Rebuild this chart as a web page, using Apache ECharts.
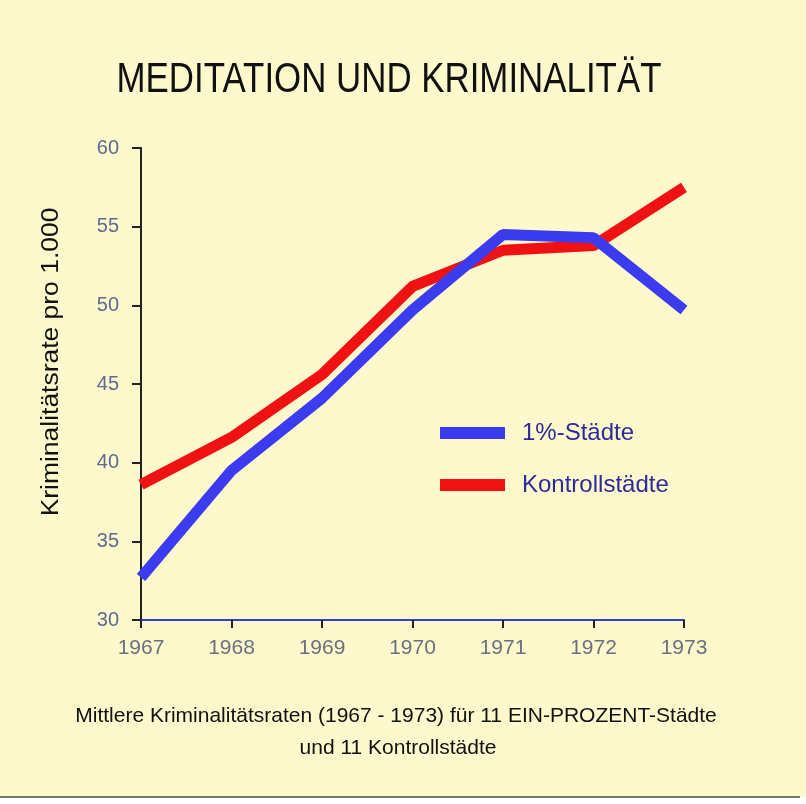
<!DOCTYPE html>
<html>
<head>
<meta charset="utf-8">
<script src="https://cdn.jsdelivr.net/npm/echarts@6/dist/echarts.min.js"></script>
<style>
  html, body { margin: 0; padding: 0; background: #ffffff; }
  #chart { width: 806px; height: 804px; }
</style>
</head>
<body>
<div id="chart"></div>
<script>
// Jahre und Kriminalitätsraten (pro 1.000 Einwohner)
const years = ['1967', '1968', '1969', '1970', '1971', '1972', '1973'];
const prozentStaedte = [32.7, 39.5, 44.1, 49.7, 54.5, 54.3, 49.7];
const kontrollStaedte = [38.6, 41.6, 45.6, 51.2, 53.5, 53.8, 57.5];
const yTicks = [30, 35, 40, 45, 50, 55, 60];

const chart = echarts.init(document.getElementById('chart'));
const sans = '"Liberation Sans", Arial, sans-serif';

const option = {
    backgroundColor: '#ffffff',
    animation: false,
    graphic: [
        { type: 'rect', shape: { x: 0, y: 0, width: 806, height: 797 }, style: { fill: '#fdf9cd' }, z: -10 },
        { type: 'line', shape: { x1: 0, y1: 797, x2: 800, y2: 797 }, style: { stroke: '#6f7a6a', lineWidth: 2 } },
        {
            type: 'text', x: 389, y: 80, scaleX: 0.83,
            style: { text: 'MEDITATION UND KRIMINALITÄT', font: '42px ' + sans, fill: '#111111', align: 'center', verticalAlign: 'middle' }
        },
        {
            type: 'text', x: 52, y: 362, rotation: Math.PI / 2, scaleX: 1.15,
            style: { text: 'Kriminalitätsrate pro 1.000', font: '23px ' + sans, fill: '#111111', align: 'center', verticalAlign: 'middle' }
        },
        {
            type: 'text', x: 396, y: 716,
            style: { text: 'Mittlere Kriminalitätsraten (1967 - 1973) für 11 EIN-PROZENT-Städte', font: '21px ' + sans, fill: '#111111', align: 'center', verticalAlign: 'middle' }
        },
        {
            type: 'text', x: 398, y: 748,
            style: { text: 'und 11 Kontrollstädte', font: '21px ' + sans, fill: '#111111', align: 'center', verticalAlign: 'middle' }
        }
    ],
    grid: { left: 141, right: 122, top: 148, bottom: 184 },
    legend: {
        orient: 'vertical',
        left: 435,
        top: 416,
        icon: 'rect',
        itemWidth: 65,
        itemHeight: 12,
        itemGap: 28,
        textStyle: { color: '#2b2b9c', fontSize: 24, fontFamily: sans, padding: [0, 0, 0, 12] },
        data: ['1%-Städte', 'Kontrollstädte']
    },
    xAxis: {
        type: 'category',
        data: years,
        boundaryGap: false,
        axisLine: { lineStyle: { color: '#2f3fd0', width: 2 } },
        axisTick: { alignWithLabel: true, length: 8, lineStyle: { color: '#222222', width: 2 } },
        axisLabel: { color: '#6a7080', fontSize: 21, margin: 18, fontFamily: sans }
    },
    yAxis: {
        type: 'value',
        min: 30,
        max: 60,
        interval: 5,
        axisLine: { show: true, lineStyle: { color: '#222222', width: 2 } },
        axisTick: { show: true, length: 9, lineStyle: { color: '#222222', width: 2 } },
        axisLabel: {
            color: '#5c6a94', fontSize: 20, margin: 22, fontFamily: sans,
            formatter: v => yTicks.includes(v) ? String(v) : ''
        },
        splitLine: { show: false }
    },
    series: [
        {
            name: '1%-Städte',
            type: 'line',
            data: prozentStaedte,
            showSymbol: false,
            color: '#3b3bef',
            lineStyle: { width: 11, color: '#3b3bef' },
            z: 3
        },
        {
            name: 'Kontrollstädte',
            type: 'line',
            data: kontrollStaedte,
            showSymbol: false,
            color: '#f01212',
            lineStyle: { width: 11, color: '#f01212' },
            z: 2
        }
    ]
};

chart.setOption(option);
</script>
</body>
</html>
